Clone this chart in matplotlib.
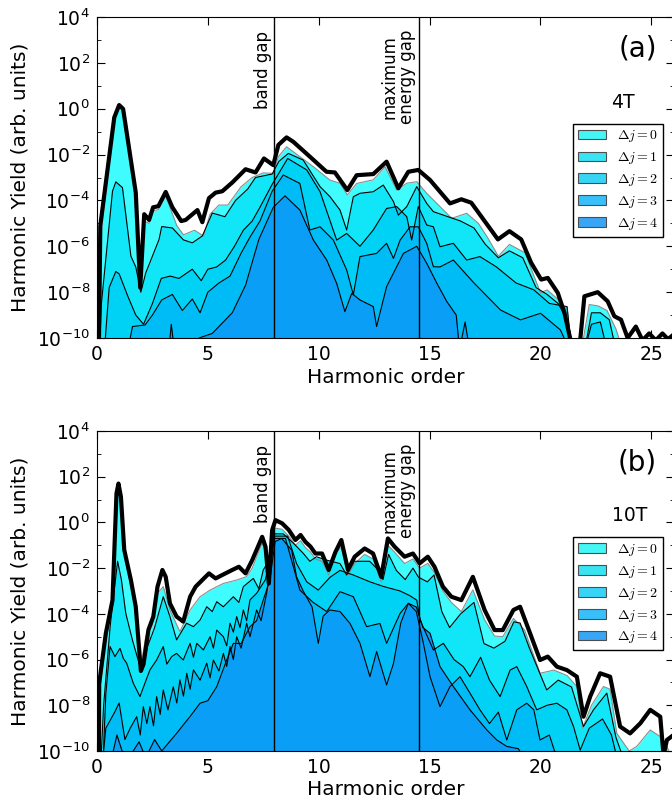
import numpy as np
import matplotlib
matplotlib.use("Agg")
import matplotlib.pyplot as plt
from matplotlib.patches import Patch
from matplotlib.transforms import blended_transform_factory
from matplotlib.ticker import FixedLocator, LogFormatterSciNotation, NullFormatter

plt.rcParams['font.family'] = ['DejaVu Sans']
plt.rcParams['mathtext.fontset'] = 'dejavusans'
plt.rcParams['xtick.direction'] = 'in'
plt.rcParams['ytick.direction'] = 'in'
plt.rcParams['xtick.top'] = True
plt.rcParams['ytick.right'] = True

# ---------------- data (x = harmonic order, value = log10 yield) ----------------
a_total = [(0.08, -11), (0.15, -5.1), (0.78, -0.38), (1.0, 0.16), (1.18, -0.01), (1.75, -3.66),
           (1.95, -7.8), (2.13, -4.6), (2.35, -4.85), (2.53, -4.3), (2.77, -4.25), (3.1, -3.63),
           (3.4, -4.3), (3.8, -4.9), (4.0, -4.85), (4.53, -4.42), (4.75, -4.95), (5.05, -3.9),
           (5.35, -3.66), (5.65, -3.6), (6.1, -3.22), (6.7, -2.64), (7.15, -2.78), (7.53, -2.17),
           (7.95, -2.46), (8.18, -1.58), (8.55, -1.25), (8.85, -1.44), (9.6, -2.09), (10.35, -2.75),
           (10.73, -2.78), (11.29, -3.55), (11.71, -2.9), (12.46, -2.85), (13.06, -2.31),
           (13.59, -3.47), (14.04, -2.75), (14.49, -2.67), (15.02, -3.11), (15.92, -4.13),
           (16.43, -3.95), (16.88, -4.1), (17.48, -4.9), (18.08, -5.7), (18.6, -5.34), (19.13, -5.7),
           (19.58, -6.72), (20.03, -7.45), (20.33, -7.38), (20.78, -8.03), (21.08, -8.9),
           (21.45, -10.5), (21.75, -10.5), (21.98, -8.18), (22.58, -8.0), (23.03, -8.4),
           (23.33, -9.05), (23.63, -9.2), (23.93, -10.0), (24.3, -9.5), (24.6, -10.1), (24.9, -9.8),
           (25.2, -10.1), (25.5, -9.8), (25.75, -10.05), (26.0, -9.85)]

a_dj0 = [(0.1, -11), (0.2, -5.3), (0.8, -0.45), (1.0, 0.1), (1.18, -0.1), (1.75, -3.8), (1.95, -8.0),
         (2.13, -4.9), (2.35, -5.0), (2.53, -4.45), (2.77, -4.4), (3.1, -3.8), (3.6, -5.1),
         (3.9, -5.5), (4.4, -5.3), (4.8, -5.55), (5.1, -4.6), (5.5, -4.2), (5.9, -4.2), (6.5, -3.4),
         (7.0, -3.0), (7.5, -2.8), (7.95, -2.82), (8.18, -2.09), (8.55, -1.66), (9.15, -2.09),
         (9.76, -2.53), (10.5, -3.11), (10.96, -3.25), (11.29, -3.76), (11.71, -3.26),
         (12.46, -3.1), (12.99, -2.53), (13.52, -3.55), (13.97, -3.25), (14.42, -3.18),
         (14.87, -3.69), (15.47, -4.27), (16.0, -4.78), (16.67, -4.56), (17.2, -5.0), (17.6, -5.6),
         (18.1, -6.43), (18.6, -5.92), (19.3, -6.28), (20.0, -8.03), (20.3, -7.9), (20.8, -8.32),
         (21.2, -8.9), (21.45, -10.5), (21.85, -10.5), (22.2, -8.54), (22.6, -8.6), (23.0, -8.8),
         (23.4, -9.6), (23.7, -10.5)]

a_dj1 = [(0.1, -11), (0.2, -8.5), (0.7, -3.6), (0.85, -3.19), (1.15, -3.44), (1.53, -6.43),
         (1.75, -6.9), (1.98, -8.0), (2.2, -7.16), (2.8, -5.7), (2.92, -5.14), (3.4, -5.2),
         (3.9, -5.72), (4.3, -5.85), (4.75, -5.55), (5.2, -4.55), (5.77, -4.71), (6.25, -4.0),
         (6.8, -3.5), (7.15, -3.0), (7.9, -2.85), (8.2, -2.3), (8.63, -1.95), (9.3, -2.24),
         (10.06, -3.4), (10.51, -3.84), (10.96, -4.42), (11.26, -5.29), (11.56, -3.84),
         (11.86, -3.69), (12.46, -3.62), (12.91, -3.33), (13.37, -4.05), (13.59, -4.64),
         (13.97, -4.27), (14.42, -3.4), (14.87, -4.13), (15.17, -4.49), (15.62, -4.64),
         (16.4, -4.9), (17.0, -5.2), (17.5, -5.9), (18.1, -6.5), (18.6, -6.2), (19.2, -6.5),
         (19.8, -7.8), (20.3, -8.1), (20.8, -8.5), (21.2, -9.2), (21.4, -10.5), (22.0, -10.5),
         (22.3, -8.9), (22.7, -8.9), (23.1, -9.2), (23.4, -10.5)]

a_dj2 = [(0.3, -11), (0.55, -7.8), (0.85, -7.1), (1.0, -7.2), (1.4, -8.2), (1.75, -9.0),
         (2.1, -9.4), (2.5, -8.5), (2.9, -7.4), (3.3, -7.3), (3.7, -7.4), (4.3, -7.0), (4.7, -7.5),
         (5.0, -7.0), (5.4, -6.9), (5.8, -6.6), (6.2, -6.0), (6.6, -5.3), (7.0, -4.9), (7.35, -4.3),
         (7.9, -3.3), (8.6, -2.17), (9.46, -2.67), (10.06, -3.62), (10.81, -5.73), (11.26, -5.44),
         (11.86, -6.0), (12.46, -5.29), (13.06, -4.35), (13.52, -4.27), (13.97, -4.71),
         (14.19, -5.73), (14.49, -4.27), (14.87, -5.07), (15.17, -5.15), (15.47, -6.02),
         (16.07, -5.87), (16.67, -6.6), (17.27, -6.45), (18.0, -6.89), (18.9, -7.6), (19.7, -7.9),
         (20.4, -8.49), (21.2, -8.63), (21.4, -10.5), (22.0, -10.5), (22.3, -9.4), (22.7, -9.3),
         (23.0, -10.5)]

a_dj3 = [(1.3, -11), (1.6, -9.5), (2.17, -9.43), (2.5, -9.0), (2.92, -8.34), (3.4, -8.1),
         (3.85, -8.8), (4.3, -8.3), (4.65, -8.9), (5.0, -8.0), (5.5, -7.6), (6.0, -7.3), (6.5, -6.3),
         (6.9, -5.6), (7.35, -4.9), (7.9, -3.6), (8.4, -2.89), (9.15, -3.26), (9.6, -5.29),
         (10.06, -5.15), (10.66, -5.73), (11.26, -7.03), (11.56, -8.12), (11.86, -6.45),
         (12.61, -6.31), (13.06, -5.87), (13.37, -6.53), (13.67, -5.73), (14.12, -5.15),
         (14.49, -5.15), (14.87, -5.87), (15.17, -6.89), (15.47, -6.9), (16.07, -6.6),
         (17.0, -7.6), (18.2, -8.78), (19.1, -9.21), (20.0, -8.92), (20.9, -9.65), (21.3, -10.5)]

a_dj4 = [(3.2, -11), (3.35, -9.4), (3.55, -11), (4.5, -10.3), (4.6, -10.0), (5.2, -9.8),
         (6.1, -8.9), (6.7, -7.7), (7.3, -5.7), (7.95, -4.3), (8.48, -3.8), (9.15, -4.42),
         (9.76, -5.73), (10.36, -6.6), (10.81, -7.62), (11.18, -8.85), (11.49, -8.05),
         (11.86, -8.34), (12.46, -8.63), (12.61, -9.5), (13.06, -7.76), (13.82, -6.31),
         (14.42, -6.0), (14.87, -6.74), (15.32, -7.6), (15.77, -8.4), (16.2, -9.0), (16.35, -10.5),
         (16.6, -9.3), (16.8, -10.5)]

b_total = [(0.08, -11), (0.1, -7.04), (0.4, -4.85), (0.7, -3.4), (0.88, 1.27), (0.97, 1.7),
           (1.08, 1.12), (1.23, -1.2), (1.53, -2.52), (1.75, -3.69), (1.98, -6.5), (2.1, -6.2),
           (2.32, -4.7), (2.54, -4.12), (2.73, -2.81), (2.95, -2.08), (3.1, -2.38), (3.29, -3.54),
           (3.59, -4.12), (3.89, -4.34), (4.2, -3.25), (4.45, -2.81), (4.75, -2.52), (5.05, -2.23),
           (5.35, -2.45), (5.65, -2.3), (6.1, -2.08), (6.4, -1.94), (6.7, -2.23), (7.0, -1.65),
           (7.45, -0.63), (7.6, -1.06), (7.75, -2.67), (7.9, -0.33), (8.05, 0.1), (8.35, -0.04),
           (8.65, -0.33), (8.95, -0.77), (9.18, -0.55), (9.4, -0.85), (9.63, -1.06), (9.85, -1.36),
           (10.15, -1.36), (10.45, -2.08), (10.75, -1.3), (11.02, -0.77), (11.32, -2.08),
           (11.62, -1.5), (12.07, -1.14), (12.45, -1.36), (12.82, -2.38), (13.12, -0.7),
           (13.42, -1.06), (13.87, -1.5), (14.25, -1.36), (14.55, -1.79), (14.92, -1.5),
           (15.22, -1.94), (15.6, -2.81), (15.98, -3.25), (16.43, -3.4), (16.95, -2.38),
           (17.48, -3.83), (17.93, -4.71), (18.3, -4.71), (18.78, -3.83), (19.08, -3.69),
           (19.53, -4.85), (19.98, -6.02), (20.33, -5.87), (20.74, -6.31), (21.19, -6.46),
           (21.64, -6.75), (21.94, -8.5), (22.24, -7.62), (22.69, -6.6), (23.14, -6.75),
           (23.59, -8.93), (24.04, -9.23), (24.5, -8.79), (24.95, -8.2), (25.4, -8.5),
           (25.55, -10.2), (25.7, -9.52), (26.0, -9.3)]

b_dj0 = [(0.1, -11), (0.15, -7.3), (0.4, -5.0), (0.7, -3.6), (0.88, 1.0), (0.97, 1.5), (1.08, 0.9),
         (1.23, -1.4), (1.53, -2.75), (1.75, -3.9), (1.98, -6.3), (2.2, -5.0), (2.5, -4.5),
         (2.73, -3.1), (2.99, -2.81), (3.29, -3.83), (3.74, -4.78), (4.2, -3.83), (4.65, -3.25),
         (5.1, -2.96), (5.7, -2.67), (6.3, -2.52), (6.75, -2.37), (7.0, -2.0), (7.45, -0.9),
         (7.6, -1.3), (7.75, -3.0), (7.9, -0.6), (8.05, -0.25), (8.35, -0.3), (8.65, -0.6),
         (8.95, -1.0), (9.18, -0.8), (9.4, -1.1), (9.63, -1.3), (9.85, -1.6), (10.15, -1.7),
         (10.45, -2.3), (10.75, -1.3), (11.02, -1.1), (11.32, -2.3), (11.62, -1.8), (12.07, -1.4),
         (12.45, -1.6), (12.82, -2.6), (13.12, -1.0), (13.42, -1.3), (13.87, -1.8), (14.25, -1.6),
         (14.55, -2.0), (14.92, -1.79), (15.22, -2.2), (15.6, -3.0), (15.98, -3.5), (16.43, -3.9),
         (16.95, -2.95), (17.48, -4.26), (17.93, -4.97), (18.3, -5.0), (18.78, -4.2),
         (19.28, -4.7), (19.98, -6.6), (20.6, -6.46), (21.2, -6.7), (21.64, -7.18), (21.9, -9.0),
         (22.3, -8.0), (22.84, -7.18), (23.14, -7.3), (23.44, -9.23), (24.0, -10.0),
         (24.34, -9.8), (24.95, -9.08), (25.4, -9.37), (25.7, -9.8), (26.0, -10.5)]

b_dj1 = [(0.15, -11), (0.3, -8.0), (0.6, -4.5), (0.93, -1.7), (1.1, -2.5), (1.3, -3.98),
         (1.6, -5.15), (1.9, -6.17), (2.05, -6.45), (2.28, -5.43), (2.6, -4.6), (2.99, -3.25),
         (3.29, -4.12), (3.59, -5.14), (4.04, -4.41), (4.35, -4.56), (4.65, -4.27), (4.95, -3.69),
         (5.2, -3.9), (5.4, -3.47), (5.7, -3.69), (6.15, -3.25), (6.4, -3.5), (6.6, -2.81),
         (7.05, -2.45), (7.3, -2.9), (7.5, -2.08),
         (7.8, -1.6), (8.0, -0.5), (8.4, -0.5), (8.85, -0.9), (9.3, -1.35), (9.6, -1.7),
         (9.9, -1.5), (10.36, -1.65), (10.96, -1.8), (11.26, -2.3), (11.6, -1.7), (12.3, -1.7),
         (12.6, -2.0), (12.9, -2.5), (13.15, -1.4), (13.5, -2.1), (13.9, -2.5), (14.25, -2.0),
         (14.5, -2.4), (14.9, -2.6), (15.2, -2.3), (15.55, -3.9), (15.9, -4.6), (16.4, -4.0),
         (17.0, -3.5), (17.45, -5.3), (17.9, -5.5), (18.4, -5.2), (18.8, -4.35), (19.08, -4.4),
         (19.5, -5.5), (20.28, -7.33), (20.8, -6.9), (21.4, -7.2), (21.94, -8.93), (22.39, -8.2),
         (22.99, -7.47), (23.4, -9.4), (23.8, -10.5)]

b_dj2 = [(0.25, -11), (0.4, -7.5), (0.59, -5.43), (0.81, -5.87), (1.04, -5.51), (1.19, -5.95),
         (1.34, -6.16), (1.64, -7.04), (1.79, -7.33), (1.94, -7.62), (2.16, -7.04), (2.39, -6.45),
         (2.69, -6.02), (2.99, -5.43), (3.15, -6.2), (3.37, -5.87), (3.59, -5.73), (3.89, -6.02),
         (4.2, -5.29), (4.35, -5.9), (4.5, -5.29), (4.8, -5.58), (5.1, -5.0), (5.25, -5.5),
         (5.4, -4.71), (5.7, -5.0), (5.85, -5.4), (6.0, -4.41), (6.15, -4.8), (6.3, -4.12),
         (6.45, -4.6), (6.6, -3.83), (6.75, -4.3), (6.9, -3.39), (7.2, -3.1), (7.6, -2.5),
         (8.0, -0.6),
         (8.6, -0.6), (9.0, -1.8), (9.46, -2.6), (9.98, -2.96), (10.51, -2.4), (10.96, -2.1),
         (11.56, -2.3), (12.31, -2.6), (12.91, -2.8), (13.67, -3.0), (14.1, -3.2), (14.42, -3.4),
         (14.57, -4.27), (15.17, -5.58), (15.62, -5.29), (16.1, -6.0), (16.52, -6.31),
         (16.82, -6.75), (17.3, -5.9), (17.7, -6.9), (18.18, -7.62), (18.63, -6.46),
         (18.93, -6.31), (19.38, -7.18), (19.83, -8.2), (20.3, -8.0), (20.74, -7.91),
         (21.19, -8.2), (21.49, -8.93), (21.79, -9.96), (22.2, -9.0), (22.8, -8.6), (23.2, -9.3),
         (23.5, -10.5)]

b_dj3 = [(0.2, -11), (0.4, -9.0), (0.8, -8.3), (1.0, -7.9), (1.26, -9.5), (1.5, -9.0),
         (1.79, -8.5), (1.95, -9.3), (2.09, -8.06), (2.25, -8.8), (2.39, -8.06), (2.55, -8.9),
         (2.69, -7.62), (2.85, -8.4), (2.99, -7.33), (3.2, -8.2), (3.44, -7.19), (3.6, -7.9),
         (3.74, -6.89), (3.9, -7.6), (4.05, -6.6), (4.2, -7.3), (4.35, -6.45), (4.65, -6.9),
         (4.95, -6.16), (5.1, -6.8), (5.25, -6.02), (5.5, -6.5), (5.7, -5.73), (5.85, -6.3),
         (6.0, -5.43), (6.15, -6.0), (6.3, -5.0), (6.5, -5.5), (6.75, -4.41), (6.9, -5.0),
         (7.2, -3.83), (7.4, -4.3), (7.65, -3.1),
         (8.0, -0.7), (8.5, -0.7), (9.15, -2.96), (9.75, -3.5),
         (10.36, -3.9), (10.96, -3.03), (11.56, -3.25), (12.16, -4.56), (12.76, -4.42),
         (13.06, -5.29), (13.67, -3.98), (14.04, -3.54), (14.4, -3.9), (14.7, -5.2),
         (15.02, -6.75), (15.47, -8.06), (15.92, -7.18), (16.37, -6.75), (16.82, -7.47),
         (17.27, -8.2), (17.7, -8.8), (18.1, -8.3), (18.48, -9.52), (18.93, -8.2), (19.38, -7.91),
         (19.7, -8.2), (19.98, -9.52), (20.4, -9.3), (20.8, -10.5)]

b_dj4 = [(0.5, -11), (0.9, -9.3), (1.3, -10.5), (1.9, -9.6), (2.2, -10.3), (2.6, -9.5),
         (2.92, -10.0), (3.59, -9.23), (4.19, -8.5), (4.65, -7.91), (5.0, -7.8), (5.4, -7.19),
         (5.85, -6.02), (6.15, -5.29), (6.5, -5.3), (6.9, -4.56), (7.2, -4.3), (7.5, -3.39),
         (7.8, -2.52), (8.03, -0.84), (8.33, -0.7), (8.78, -1.21), (9.0, -2.38), (9.3, -3.0),
         (9.7, -3.7), (9.98, -5.29), (10.2, -4.1), (10.5, -3.83), (10.96, -3.9), (11.41, -4.42),
         (11.86, -5.29), (12.31, -6.75), (12.61, -5.65), (13.06, -7.11), (13.37, -6.17),
         (13.7, -4.4), (14.04, -3.54), (14.4, -3.7), (14.7, -4.6), (15.02, -4.85), (15.47, -6.31),
         (16.07, -7.18), (16.82, -8.2), (17.58, -9.08), (18.03, -9.52), (18.48, -9.8),
         (19.0, -9.9), (19.4, -10.5)]

legend_labels = [r'$\Delta j=0$', r'$\Delta j=1$', r'$\Delta j=2$', r'$\Delta j=3$', r'$\Delta j=4$']
panel_labels = ['(a)', '(b)']
field_labels = ['4T', '10T']
band_gap = 8.0
max_gap = 14.5
x_ticks = [0, 5, 10, 15, 20, 25]

# ---------------- style ----------------
fill_colors = ['#3ffcff', '#10e6f8', '#00d2f6', '#00bcf6', '#0a9ef6']
legend_colors = ['#44f6f6', '#38e4f2', '#38d4f6', '#38c0fa', '#38a6f4']
edge_colors = ['0.55', 'k', 'k', 'k', 'k']

fig = plt.figure(figsize=(6.72, 8.05), dpi=100)
axes = [fig.add_axes([0.1443, 0.5801, 0.858, 0.3988]),
        fig.add_axes([0.1443, 0.0671, 0.858, 0.3975])]

panels = [(a_total, [a_dj0, a_dj1, a_dj2, a_dj3, a_dj4]),
          (b_total, [b_dj0, b_dj1, b_dj2, b_dj3, b_dj4])]

for i, (ax, (total, levels)) in enumerate(zip(axes, panels)):
    ax.set_yscale('log')
    for lev, fc, ec in zip(levels, fill_colors, edge_colors):
        xs = np.array([p[0] for p in lev])
        ys = 10.0 ** np.array([p[1] for p in lev])
        ax.fill_between(xs, ys, 1e-13, color=fc, lw=0, zorder=2)
        ax.plot(xs, ys, color=ec, lw=0.8, zorder=3)
    tx = np.array([p[0] for p in total])
    ty = 10.0 ** np.array([p[1] for p in total])
    ax.plot(tx, ty, color='k', lw=3, zorder=5)
    ax.axvline(band_gap, color='k', lw=1, zorder=6)
    ax.axvline(max_gap, color='k', lw=1, zorder=6)

    trans = blended_transform_factory(ax.transData, ax.transAxes)
    ax.text(band_gap - 0.12, 0.955, 'band gap', transform=trans, rotation=90,
            ha='right', va='top', fontsize=12, zorder=7)
    ax.text(max_gap - 0.12, 0.96, 'maximum\nenergy gap', transform=trans, rotation=90,
            ha='right', va='top', fontsize=12, multialignment='center', linespacing=0.95,
            zorder=7)
    ax.text(0.9716, 0.903, panel_labels[i], transform=ax.transAxes, ha='right', va='center',
            fontsize=20)
    ax.text(0.912 + 0.012 * i, 0.735, field_labels[i], transform=ax.transAxes, ha='center',
            va='center', fontsize=13.5)

    ax.set_xlim(0, 26)
    ax.set_ylim(1e-10, 1e4)
    ax.set_xticks(x_ticks)
    ax.yaxis.set_major_locator(FixedLocator([10.0 ** k for k in range(-10, 5, 2)]))
    ax.yaxis.set_major_formatter(LogFormatterSciNotation())
    ax.yaxis.set_minor_locator(FixedLocator([10.0 ** k for k in range(-9, 4, 2)]))
    ax.yaxis.set_minor_formatter(NullFormatter())
    ax.tick_params(which='major', length=6, width=0.8, labelsize=13.5, pad=5)
    ax.tick_params(which='minor', length=3, width=0.6)
    ax.set_xlabel('Harmonic order', fontsize=14.5)
    ax.set_ylabel('Harmonic Yield (arb. units)', fontsize=14.5)
    ax.xaxis.set_label_coords(0.5, -0.092)
    ax.yaxis.set_label_coords(-0.117, 0.5)

    handles = [Patch(facecolor=c, edgecolor='0.3', lw=0.8) for c in legend_colors]
    leg = ax.legend(handles, legend_labels, loc='upper right', bbox_to_anchor=(0.982, 0.668),
                    fontsize=10, frameon=True, fancybox=False, framealpha=1, edgecolor='k',
                    handlelength=2.0, handleheight=0.7, labelspacing=0.42, borderpad=0.35,
                    handletextpad=0.8, borderaxespad=0)
    leg.get_frame().set_linewidth(1.0)
    for t in leg.get_texts():
        t.set_math_fontfamily('cm')
    leg.set_zorder(10)

fig.savefig('out.png', dpi=100)
